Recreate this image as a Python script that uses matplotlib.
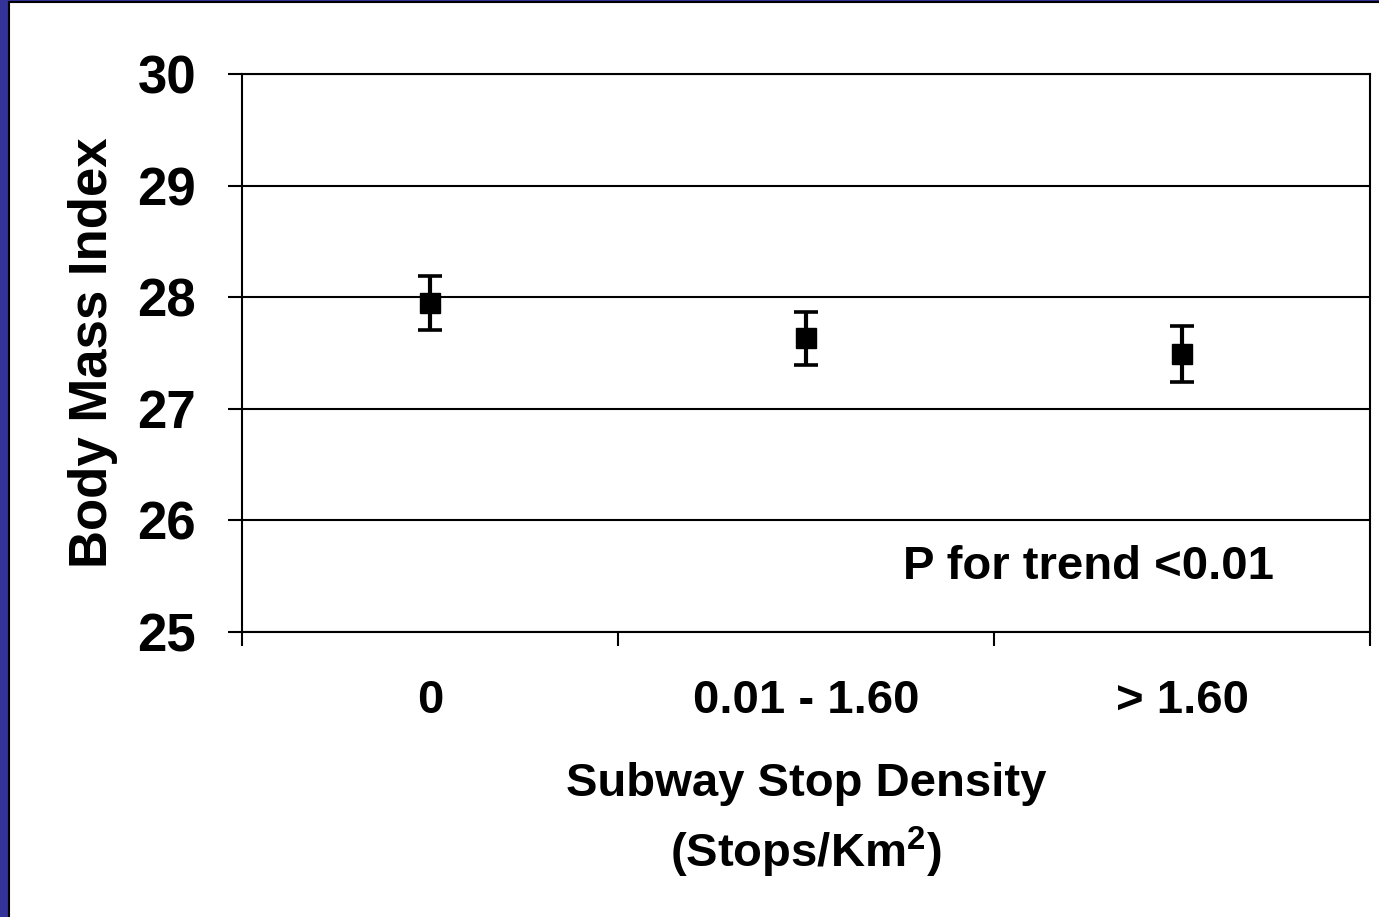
import numpy as np
import matplotlib.pyplot as plt
from matplotlib.patches import Rectangle

plt.rcParams['font.family'] = ['Liberation Sans', 'DejaVu Sans']
plt.rcParams['font.weight'] = 'bold'
plt.rcParams['mathtext.fontset'] = 'custom'
plt.rcParams['mathtext.bf'] = 'Liberation Sans:bold'
plt.rcParams['mathtext.rm'] = 'Liberation Sans:bold'

categories = ["0", "0.01 - 1.60", "> 1.60"]
bmi = [27.95, 27.63, 27.49]
err = [0.24, 0.24, 0.25]

W, H = 1379, 917
fig = plt.figure(figsize=(W / 100, H / 100), dpi=100)
fig.patch.set_facecolor('#333399')
# white slide area with thin dark edge, kept behind the axes
fig.patches.append(Rectangle((9 / W, -0.01), 1, 1.01 - 2 / H, transform=fig.transFigure,
                             facecolor='white', edgecolor='black', linewidth=1.5,
                             zorder=-5))

ax = fig.add_axes([242 / W, 1 - 632 / H, (1370 - 242) / W, (632 - 74) / H])
ax.patch.set_alpha(0)
x = np.arange(len(categories))
ax.errorbar(x, bmi, yerr=err, fmt='s', color='black', markersize=15,
            elinewidth=3, capsize=8.6, capthick=2.6, zorder=3)

ax.set_xlim(-0.5, len(categories) - 0.5)
ax.set_ylim(25, 30)
ax.set_yticks(np.arange(25, 31, 1))
ax.yaxis.grid(True, color='black', linewidth=1.5)
ax.set_axisbelow(True)

ax.set_xticks(x)
ax.set_xticklabels(categories, fontsize=34, fontweight='bold')
ax.set_xticks(np.arange(-0.5, len(categories), 1), minor=True)
ax.tick_params(axis='x', which='major', length=0, pad=34)
ax.tick_params(axis='x', which='minor', length=10, width=1.5, direction='out')
ax.tick_params(axis='y', length=10, width=1.5, direction='out', pad=23, labelsize=38)
for lab in ax.get_yticklabels():
    lab.set_fontweight('bold')

for s in ax.spines.values():
    s.set_linewidth(1.5)

ax.set_ylabel("Body Mass Index", fontsize=38, fontweight='bold', labelpad=14)
ax.set_xlabel("Subway Stop Density\n(Stops/Km$^{2}$)", fontsize=34, fontweight='bold',
              linespacing=1.45, labelpad=28)

ax.text(2.245, 25.58, "P for trend <0.01", fontsize=34, fontweight='bold',
        ha='right', va='center')

fig.savefig("out.png", dpi=100, facecolor=fig.get_facecolor())
